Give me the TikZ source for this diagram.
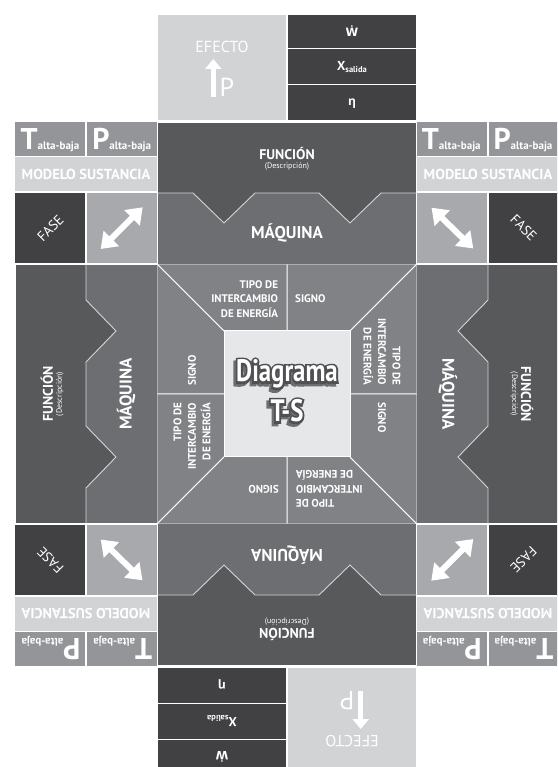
\documentclass[tikz,border=0pt]{standalone}
\usepackage{fontspec}
\setmainfont{PT Sans}
\newfontfamily\osans{Open Sans}
\newfontfamily\dvs{DejaVu Sans}
\newfontfamily\dgbold{PT Sans Bold}[FakeBold=14]
\usetikzlibrary{arrows.meta,calc}
\definecolor{cLight}{HTML}{D1D3D4}
\definecolor{cArr}{HTML}{A7A9AC}
\definecolor{cTP}{HTML}{939598}
\definecolor{cTrap}{HTML}{808285}
\definecolor{cMaq}{HTML}{6D6E71}
\definecolor{cFun}{HTML}{58595B}
\definecolor{cDark}{HTML}{414042}
\definecolor{cInner}{HTML}{E6E7E8}
\definecolor{cOutl}{HTML}{505052}
\definecolor{cShad}{HTML}{6D6E71}
\newcommand\dgtxt[1]{\scalebox{0.8}[1]{\bfseries\fontsize{31}{31}\selectfont #1}}
\newcommand\dgfat[1]{\scalebox{0.8}[1]{\dgbold\fontsize{31}{31}\selectfont #1}}
\newcommand\tpl[1]{\bfseries\fontsize{30}{30}\selectfont #1\fontsize{11}{11}\selectfont alta-baja}
\tikzset{
  box/.style={draw=white, line width=1.2pt},
  wtext/.style={text=white, inner sep=0pt},
  dblarrow/.style={draw=white, line width=6pt,
    {Triangle[width=21pt,length=15pt]}-{Triangle[width=21pt,length=15pt]}},
  band/.pic={
    \fill[cFun] (-129.7,272) -- (129.7,272) -- (129.7,201) -- (94,201) -- (63,171) -- (32,201)
      -- (-32,201) -- (-63,171) -- (-94,201) -- (-129.7,201) -- cycle;
    \fill[cMaq] (-129.7,201) -- (-94,201) -- (-63,171) -- (-32,201) -- (32,201) -- (63,171)
      -- (94,201) -- (129.7,201) -- (129.7,129.7) -- (-129.7,129.7) -- cycle;
    \draw[cLight, line width=0.9pt] (-129.7,201) -- (-94,201) -- (-63,171) -- (-32,201)
      -- (32,201) -- (63,171) -- (94,201) -- (129.7,201);
    \draw[white, line width=1.2pt] (-129.7,272) rectangle (129.7,129.7);
    \fill[cTrap] (-129.7,129.7) -- (129.7,129.7) -- (63,63) -- (-63,63) -- cycle;
    \draw[white, line width=1pt] (-129.7,129.7) -- (-63,63) (129.7,129.7) -- (63,63) (0,129.7) -- (0,63);
    \node[wtext, font=\bfseries\fontsize{14}{14}\selectfont] (-fun) at (0,240) {FUNCIÓN};
    \node[wtext, font=\fontsize{8}{8}\selectfont] (-desc) at (0,227) {(Descripción)};
    \node[wtext, font=\bfseries\fontsize{17}{17}\selectfont] (-maq) at (0,161) {MÁQUINA};
    \node[wtext, font=\bfseries\fontsize{11}{14.5}\selectfont, align=right, anchor=east] (-tipo)
      at (-8.7,95) {TIPO DE\\INTERCAMBIO\\DE ENERGÍA};
    \node[wtext, font=\bfseries\fontsize{11}{14.5}\selectfont, anchor=west] (-signo) at (8,95) {SIGNO};
  },
  cornerset/.pic={
    % top block
    \filldraw[fill=cLight, box] (-129.7,273) rectangle (0,380);
    \filldraw[fill=cDark, box] (0,345.3) rectangle (129.7,380);
    \filldraw[fill=cDark, box] (0,309.3) rectangle (129.7,345.3);
    \filldraw[fill=cDark, box] (0,273) rectangle (129.7,309.3);
    \node[wtext, font=\fontsize{16}{16}\selectfont] (-eff) at (-65,347) {EFECTO};
    \coordinate (-pa) at (-73.7,297.3);
    \coordinate (-pb) at (-73.7,335);
    \draw[white, line width=5pt, -{Triangle[width=16pt,length=10pt]}] (-pa) -- (-pb);
    \node[wtext, font=\fontsize{26}{26}\selectfont, anchor=base west] (-p) at (-67.5,297.3) {P};
    \node[wtext, font=\dvs\bfseries\fontsize{11.5}{11.5}\selectfont] (-w) at (65,363) {Ẇ};
    \node[wtext, font=\bfseries\fontsize{13}{13}\selectfont] (-x) at (65,327)
      {X\raisebox{-1.5pt}{\fontsize{8.5}{8.5}\selectfont salida}};
    \node[wtext, font=\osans\bfseries\fontsize{12}{12}\selectfont] (-eta) at (65,290) {η};
    % top-left corner
    \filldraw[fill=cTP, box] (-272.3,237.3) rectangle (-201,272.3);
    \filldraw[fill=cTP, box] (-201,237.3) rectangle (-129.7,272.3);
    \filldraw[fill=cLight, box] (-272.3,202) rectangle (-129.7,237.3);
    \filldraw[fill=cDark, box] (-272.3,130) rectangle (-201,202);
    \filldraw[fill=cArr, box] (-201,130) rectangle (-129.7,202);
    \node[wtext, anchor=base] (-lT) at (-237,244) {\tpl{T}};
    \node[wtext, anchor=base] (-lP) at (-165.3,244) {\tpl{P}};
    \node[wtext, font=\bfseries\fontsize{14.5}{14.5}\selectfont] (-lM) at (-201,219.6) {MODELO SUSTANCIA};
    \node[wtext, rotate=45, font=\fontsize{14}{14}\selectfont] (-lF) at (-236.6,166) {FASE};
    \coordinate (-la) at (-186.3,145);
    \coordinate (-lb) at (-144.3,186.7);
    \draw[dblarrow] (-la) -- (-lb);
    % top-right corner
    \filldraw[fill=cTP, box] (129.7,237.3) rectangle (201,272.3);
    \filldraw[fill=cTP, box] (201,237.3) rectangle (272.3,272.3);
    \filldraw[fill=cLight, box] (129.7,202) rectangle (272.3,237.3);
    \filldraw[fill=cArr, box] (129.7,130) rectangle (201,202);
    \filldraw[fill=cDark, box] (201,130) rectangle (272.3,202);
    \node[wtext, anchor=base] (-rT) at (164.3,244) {\tpl{T}};
    \node[wtext, anchor=base] (-rP) at (236,244) {\tpl{P}};
    \node[wtext, font=\bfseries\fontsize{14.5}{14.5}\selectfont] (-rM) at (201,219.6) {MODELO SUSTANCIA};
    \node[wtext, rotate=-45, font=\fontsize{14}{14}\selectfont] (-rF) at (236.6,166) {FASE};
    \coordinate (-ra) at (144.5,186.3);
    \coordinate (-rb) at (186.3,145.5);
    \draw[dblarrow] (-ra) -- (-rb);
  }
}
\begin{document}
\begin{tikzpicture}[x=1pt,y=1pt,every node/.append style={transform shape}]
\useasboundingbox (-287,-373) rectangle (270,394);
\clip (-287,-373) rectangle (270,394);
\fill[white] (-287,-373) rectangle (270,394);
% four bands with centre trapezoids
\pic (bt) at (0,0) {band};
\pic[rotate=90] (bl) at (0,0) {band};
\pic[rotate=180] (bb) at (0,0) {band};
\pic[rotate=-90] (br) at (0,0) {band};
% top and bottom blocks with corners
\pic (ct) at (0,0) {cornerset};
\pic[rotate=180] (cb) at (0,0) {cornerset};
% inner square
\filldraw[fill=cInner, draw=white, line width=1pt] (-63,-63) rectangle (63,63);
% Diagrama T-S title: shadow, outline, white letters
\node[text=cShad, anchor=base, inner sep=0pt] (dshadow) at (-2.6,9.7) {\dgfat{Diagrama}};
\node[text=cShad, anchor=base, inner sep=0pt] (tshadow) at (-2.6,-30.3) {\dgfat{T-S}};
\node[text=cOutl, anchor=base, inner sep=0pt] (doutline) at (0,12.3) {\dgfat{Diagrama}};
\node[text=cOutl, anchor=base, inner sep=0pt] (toutline) at (0,-27.7) {\dgfat{T-S}};
\node[text=white, anchor=base, inner sep=0pt] (diag) at (0,12.3) {\dgtxt{Diagrama}};
\node[text=white, anchor=base, inner sep=0pt] (ts) at (0,-27.7) {\dgtxt{T-S}};
\end{tikzpicture}
\end{document}
